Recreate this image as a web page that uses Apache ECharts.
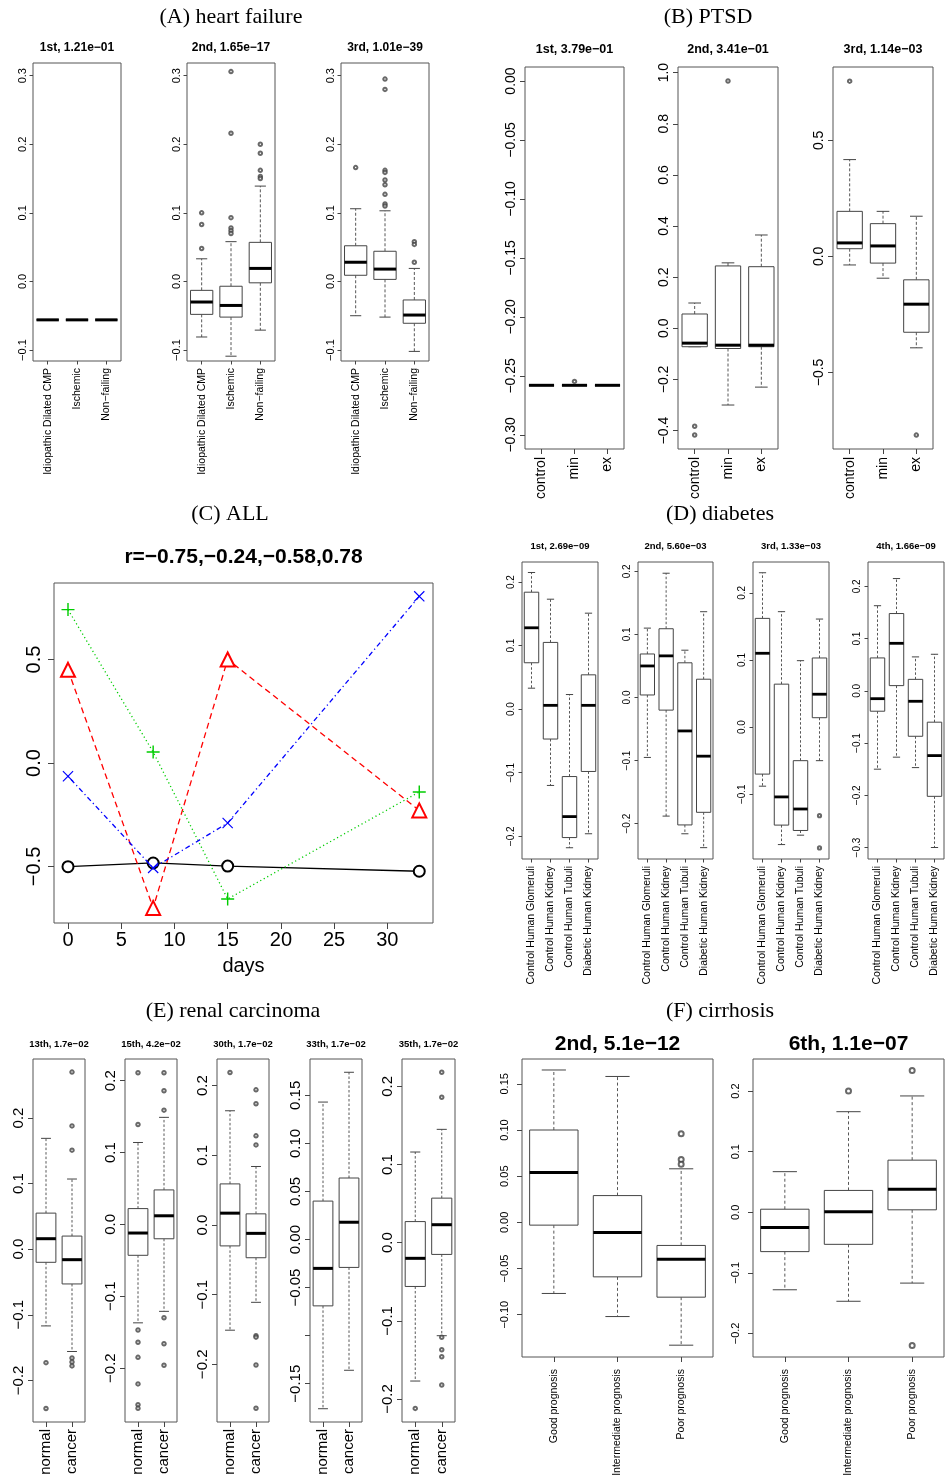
<!DOCTYPE html>
<html><head><meta charset="utf-8">
<script src="https://cdn.jsdelivr.net/npm/echarts@6/dist/echarts.min.js"></script>
<style>html,body{margin:0;padding:0;background:#fff}#c{width:946px;height:1483px}</style>
</head><body><div id="c"></div>
<script>
// ===================== DATA =====================
// stats per category: [lower whisker, Q1, median, Q3, upper whisker]; outliers: [categoryIndex, value]
const A_categories = ['Idiopathic Dilated CMP', 'Ischemic', 'Non\u2212failing'];
const A_titles = ['1st, 1.21e\u221201', '2nd, 1.65e\u221217', '3rd, 1.01e\u221239'];
const A_yRange = [-0.116, 0.3185];
const A_yTicks = [-0.1, 0.0, 0.1, 0.2, 0.3];
const A1_stats = [[-0.056,-0.056,-0.056,-0.056,-0.056],[-0.056,-0.056,-0.056,-0.056,-0.056],[-0.056,-0.056,-0.056,-0.056,-0.056]];
const A1_out = [];
const A2_stats = [[-0.081,-0.048,-0.030,-0.013,0.033],[-0.109,-0.052,-0.035,-0.007,0.058],[-0.071,-0.002,0.019,0.057,0.139]];
const A2_out = [[0,0.100],[0,0.083],[0,0.048],[1,0.306],[1,0.216],[1,0.093],[1,0.078],[1,0.074],[1,0.070],[2,0.200],[2,0.187],[2,0.162],[2,0.153],[2,0.150]];
const A3_stats = [[-0.050,0.009,0.028,0.052,0.106],[-0.052,0.003,0.018,0.044,0.103],[-0.102,-0.061,-0.049,-0.027,0.019]];
const A3_out = [[0,0.166],[1,0.295],[1,0.280],[1,0.162],[1,0.159],[1,0.148],[1,0.141],[1,0.127],[1,0.113],[1,0.110],[2,0.058],[2,0.054],[2,0.028]];

const B_categories = ['control', 'min', 'ex'];
const B_titles = ['1st, 3.79e\u221201', '2nd, 3.41e\u221201', '3rd, 1.14e\u221203'];
const B1_yRange = [-0.312, 0.0119];
const B1_yTicks = [-0.30, -0.25, -0.20, -0.15, -0.10, -0.05, 0.00];
const B1_stats = [[-0.258,-0.258,-0.258,-0.258,-0.258],[-0.258,-0.258,-0.258,-0.258,-0.258],[-0.258,-0.258,-0.258,-0.258,-0.258]];
const B1_out = [[1,-0.2547]];
const B2_yRange = [-0.472, 1.022];
const B2_yTicks = [-0.4, -0.2, 0.0, 0.2, 0.4, 0.6, 0.8, 1.0];
const B2_stats = [[-0.072,-0.072,-0.058,0.056,0.099],[-0.300,-0.079,-0.066,0.244,0.256],[-0.230,-0.072,-0.066,0.241,0.365]];
const B2_out = [[0,-0.383],[0,-0.417],[1,0.967]];
const B3_yRange = [-0.830, 0.816];
const B3_yTicks = [-0.5, 0.0, 0.5];
const B3_stats = [[-0.037,0.033,0.058,0.194,0.417],[-0.094,-0.029,0.045,0.141,0.194],[-0.394,-0.327,-0.206,-0.101,0.173]];
const B3_out = [[0,0.755],[2,-0.770]];

const C_title = 'r=\u22120.75,\u22120.24,\u22120.58,0.78';
const C_days = [0, 8, 15, 33];
const C_black = [-0.501, -0.483, -0.498, -0.523];
const C_red = [0.45, -0.70, 0.50, -0.229];
const C_green = [0.741, 0.053, -0.657, -0.14];
const C_blue = [-0.064, -0.507, -0.29, 0.805];
const C_xRange = [-1.315, 34.29];
const C_yRange = [-0.773, 0.8696];
const C_xTicks = [0, 5, 10, 15, 20, 25, 30];
const C_yTicks = [-0.5, 0.0, 0.5];

const D_categories = ['Control Human Glomeruli', 'Control Human Kidney', 'Control Human Tubuli', 'Diabetic Human Kidney'];
const D_titles = ['1st, 2.69e\u221209', '2nd, 5.60e\u221203', '3rd, 1.33e\u221203', '4th, 1.66e\u221209'];
const D1_yRange = [-0.2357, 0.2315];
const D1_yTicks = [-0.2, -0.1, 0.0, 0.1, 0.2];
const D1_stats = [[0.033,0.073,0.128,0.184,0.215],[-0.120,-0.047,0.006,0.105,0.173],[-0.218,-0.202,-0.169,-0.106,0.023],[-0.196,-0.098,0.006,0.054,0.151]];
const D2_yRange = [-0.256, 0.2148];
const D2_yTicks = [-0.2, -0.1, 0.0, 0.1, 0.2];
const D2_stats = [[-0.095,0.004,0.050,0.069,0.110],[-0.188,-0.020,0.066,0.109,0.197],[-0.216,-0.202,-0.053,0.055,0.075],[-0.238,-0.182,-0.093,0.029,0.136]];
const D3_yRange = [-0.1965, 0.246];
const D3_yTicks = [-0.1, 0.0, 0.1, 0.2];
const D3_stats = [[-0.088,-0.070,0.110,0.162,0.230],[-0.175,-0.146,-0.104,0.064,0.172],[-0.161,-0.154,-0.122,-0.050,0.099],[-0.050,0.014,0.049,0.103,0.161]];
const D3_out = [[3,-0.132],[3,-0.180]];
const D4_yRange = [-0.322, 0.2467];
const D4_yTicks = [-0.3, -0.2, -0.1, 0.0, 0.1, 0.2];
const D4_stats = [[-0.150,-0.039,-0.015,0.063,0.163],[-0.127,0.010,0.091,0.148,0.215],[-0.147,-0.087,-0.020,0.022,0.065],[-0.300,-0.202,-0.124,-0.060,0.070]];

const E_categories = ['normal', 'cancer'];
const E_titles = ['13th, 1.7e\u221202', '15th, 4.2e\u221202', '30th, 1.7e\u221202', '33th, 1.7e\u221202', '35th, 1.7e\u221202'];
const E1_yRange = [-0.2635, 0.29];
const E1_yTicks = [-0.2, -0.1, 0.0, 0.1, 0.2];
const E1_stats = [[-0.117,-0.020,0.016,0.055,0.169],[-0.156,-0.053,-0.016,0.020,0.107]];
const E1_out = [[0,-0.173],[0,-0.243],[1,0.270],[1,0.188],[1,0.151],[1,-0.166],[1,-0.172],[1,-0.178]];
const E2_yRange = [-0.275, 0.2302];
const E2_yTicks = [-0.2, -0.1, 0.0, 0.1, 0.2];
const E2_stats = [[-0.137,-0.043,-0.012,0.022,0.114],[-0.121,-0.020,0.012,0.048,0.149]];
const E2_out = [[0,0.211],[0,0.139],[0,-0.147],[0,-0.164],[0,-0.185],[0,-0.222],[0,-0.251],[0,-0.256],[1,0.211],[1,0.186],[1,0.159],[1,-0.130],[1,-0.166],[1,-0.196]];
const E3_yRange = [-0.2828, 0.2383];
const E3_yTicks = [-0.2, -0.1, 0.0, 0.1, 0.2];
const E3_stats = [[-0.151,-0.030,0.017,0.059,0.164],[-0.111,-0.047,-0.012,0.016,0.084]];
const E3_out = [[0,0.219],[1,0.194],[1,0.174],[1,0.128],[1,0.115],[1,-0.159],[1,-0.161],[1,-0.201],[1,-0.263]];
const E4_yRange = [-0.1898, 0.1878];
const E4_yTicks = [-0.15, -0.10, -0.05, 0.00, 0.05, 0.10, 0.15];
const E4_yLabels = [-0.15, -0.05, 0.00, 0.05, 0.10, 0.15];
const E4_stats = [[-0.176,-0.069,-0.030,0.040,0.143],[-0.136,-0.029,0.018,0.064,0.174]];
const E5_yRange = [-0.2294, 0.235];
const E5_yTicks = [-0.2, -0.1, 0.0, 0.1, 0.2];
const E5_stats = [[-0.177,-0.056,-0.020,0.027,0.116],[-0.119,-0.015,0.023,0.057,0.145]];
const E5_out = [[0,-0.212],[1,0.218],[1,0.186],[1,-0.121],[1,-0.137],[1,-0.146],[1,-0.182]];

const F_categories = ['Good prognosis', 'Intermediate prognosis', 'Poor prognosis'];
const F_titles = ['2nd, 5.1e\u221212', '6th, 1.1e\u221207'];
const F1_yRange = [-0.1458, 0.1769];
const F1_yTicks = [-0.10, -0.05, 0.00, 0.05, 0.10, 0.15];
const F1_stats = [[-0.077,-0.003,0.054,0.100,0.165],[-0.102,-0.059,-0.011,0.029,0.158],[-0.133,-0.081,-0.040,-0.025,0.058]];
const F1_out = [[2,0.096],[2,0.068],[2,0.063]];
const F2_yRange = [-0.239, 0.253];
const F2_yTicks = [-0.2, -0.1, 0.0, 0.1, 0.2];
const F2_stats = [[-0.128,-0.065,-0.025,0.005,0.067],[-0.147,-0.053,0.001,0.036,0.166],[-0.117,0.004,0.038,0.086,0.192]];
const F2_out = [[1,0.200],[2,0.234],[2,-0.220]];

const sectionTitles = ['(A) heart failure', '(B) PTSD', '(C) ALL', '(D) diabetes', '(E) renal carcinoma', '(F) cirrhosis'];

// ===================== BUILD =====================
const SANS = "'Liberation Sans', Arial, Helvetica, sans-serif";
const SERIF = "'Liberation Serif', 'Times New Roman', serif";
const grids = [], xAxes = [], yAxes = [], series = [], texts = [];

function fmt(v, d) { if (Math.abs(v) < 1e-9) v = 0; return v.toFixed(d).replace('-', '\u2212'); }
function addText(x, y, text, size, weight, family) {
  texts.push({ type: 'text', x: x, y: y, silent: true, z: 10,
    style: { text: text, fill: '#000', fontSize: size, fontWeight: weight, fontFamily: family,
      align: 'center', verticalAlign: 'middle', textAlign: 'center', textVerticalAlign: 'middle' } });
}
function makeBoxRenderer(st) {
  return function (params, api) {
    const i = api.value(0);
    const band = api.size([1, 0])[0];
    const bw = band * 0.76, half = bw / 2, cap = bw / 4;
    const y = k => api.coord([i, api.value(k)])[1];
    const x = api.coord([i, api.value(3)])[0];
    const lo = y(1), q1 = y(2), md = y(3), q3 = y(4), hi = y(5);
    const dash = { stroke: '#444', lineWidth: 0.9, lineDash: st.dash, fill: null };
    const solid = { stroke: '#444', lineWidth: 1, fill: null };
    return { type: 'group', children: [
      { type: 'line', shape: { x1: x, y1: q3, x2: x, y2: hi }, style: dash },
      { type: 'line', shape: { x1: x, y1: q1, x2: x, y2: lo }, style: dash },
      { type: 'line', shape: { x1: x - cap, y1: hi, x2: x + cap, y2: hi }, style: solid },
      { type: 'line', shape: { x1: x - cap, y1: lo, x2: x + cap, y2: lo }, style: solid },
      { type: 'rect', shape: { x: x - half, y: q3, width: bw, height: q1 - q3 }, style: { fill: '#fff', stroke: '#444', lineWidth: 1 } },
      { type: 'line', shape: { x1: x - half, y1: md, x2: x + half, y2: md }, style: { stroke: '#000', lineWidth: st.mW } }
    ] };
  };
}
function boxPanel(rect, titleY, title, cats, stats, out, range, ticks, labelTicks, dec, st) {
  const gi = grids.length;
  grids.push({ left: rect[0], top: rect[1], width: rect[2], height: rect[3], show: true,
    borderColor: '#555', borderWidth: 1, backgroundColor: 'transparent', containLabel: false, outerBoundsMode: 'none' });
  xAxes.push({ gridIndex: gi, type: 'category', data: cats, boundaryGap: true,
    axisLine: { show: false, onZero: false },
    axisTick: { show: true, alignWithLabel: true, interval: 0, length: st.tickLen, lineStyle: { color: '#444', width: 1 } },
    axisLabel: { interval: 0, rotate: 90, margin: st.xMargin, fontSize: st.catFont, fontFamily: SANS, color: '#000' },
    splitLine: { show: false } });
  yAxes.push({ gridIndex: gi, type: 'value', min: range[0], max: range[1],
    axisLine: { show: false, onZero: false },
    axisTick: { show: true, customValues: ticks, length: st.tickLen, lineStyle: { color: '#444', width: 1 } },
    axisLabel: { customValues: labelTicks || ticks, rotate: 90, margin: st.yMargin, fontSize: st.tickFont, fontFamily: SANS, color: '#000',
      formatter: v => fmt(v, dec) },
    splitLine: { show: false } });
  series.push({ type: 'custom', xAxisIndex: gi, yAxisIndex: gi, renderItem: makeBoxRenderer(st),
    data: stats.map((s, i) => [i].concat(s)), encode: { x: 0, y: [1, 2, 3, 4, 5] }, silent: true, z: 2 });
  if (out && out.length) {
    series.push({ type: 'scatter', xAxisIndex: gi, yAxisIndex: gi, data: out, symbol: 'emptyCircle',
      symbolSize: st.outSize, itemStyle: { color: '#444', borderWidth: st.outW }, silent: true, z: 3 });
  }
  addText(rect[0] + rect[2] / 2, titleY, title, st.titleFont, 'bold', SANS);
}

const stA = { tickFont: 11, catFont: 10.5, titleFont: 12, tickLen: 3.5, yMargin: 5, xMargin: 7, outSize: 3.5, outW: 0.6, mW: 3, dash: [3, 2] };
const stB = { tickFont: 14, catFont: 14, titleFont: 12.5, tickLen: 5, yMargin: 7, xMargin: 8, outSize: 3.5, outW: 0.6, mW: 3, dash: [3, 2] };
const stD = { tickFont: 10, catFont: 10.5, titleFont: 9.5, tickLen: 3.5, yMargin: 6, xMargin: 7, outSize: 3.2, outW: 0.6, mW: 2.8, dash: [2.5, 2] };
const stE = { tickFont: 15, catFont: 15, titleFont: 9.5, tickLen: 5, yMargin: 7, xMargin: 7, outSize: 3.5, outW: 0.6, mW: 3, dash: [2.5, 2] };
const stF = { tickFont: 11, catFont: 10.5, titleFont: 21, tickLen: 5, yMargin: 12, xMargin: 12, outSize: 5, outW: 0.7, mW: 3, dash: [3, 2.5] };

// (A)
boxPanel([33, 63, 88, 298], 48, A_titles[0], A_categories, A1_stats, A1_out, A_yRange, A_yTicks, null, 1, stA);
boxPanel([187, 63, 88, 298], 48, A_titles[1], A_categories, A2_stats, A2_out, A_yRange, A_yTicks, null, 1, stA);
boxPanel([341, 63, 88, 298], 48, A_titles[2], A_categories, A3_stats, A3_out, A_yRange, A_yTicks, null, 1, stA);
// (B)
boxPanel([525, 67, 99, 382], 50, B_titles[0], B_categories, B1_stats, B1_out, B1_yRange, B1_yTicks, null, 2, stB);
boxPanel([678, 67, 100, 382], 50, B_titles[1], B_categories, B2_stats, B2_out, B2_yRange, B2_yTicks, null, 1, stB);
boxPanel([833, 67, 100, 382], 50, B_titles[2], B_categories, B3_stats, B3_out, B3_yRange, B3_yTicks, null, 1, stB);
// (D)
boxPanel([522, 562, 76, 297], 546, D_titles[0], D_categories, D1_stats, [], D1_yRange, D1_yTicks, null, 1, stD);
boxPanel([638, 562, 75, 297], 546, D_titles[1], D_categories, D2_stats, [], D2_yRange, D2_yTicks, null, 1, stD);
boxPanel([753, 562, 76, 297], 546, D_titles[2], D_categories, D3_stats, D3_out, D3_yRange, D3_yTicks, null, 1, stD);
boxPanel([868, 562, 76, 297], 546, D_titles[3], D_categories, D4_stats, [], D4_yRange, D4_yTicks, null, 1, stD);
// (E)
boxPanel([33, 1059, 52, 363], 1044, E_titles[0], E_categories, E1_stats, E1_out, E1_yRange, E1_yTicks, null, 1, stE);
boxPanel([125, 1059, 52, 363], 1044, E_titles[1], E_categories, E2_stats, E2_out, E2_yRange, E2_yTicks, null, 1, stE);
boxPanel([217, 1059, 52, 363], 1044, E_titles[2], E_categories, E3_stats, E3_out, E3_yRange, E3_yTicks, null, 1, stE);
boxPanel([310, 1059, 52, 363], 1044, E_titles[3], E_categories, E4_stats, [], E4_yRange, E4_yTicks, E4_yLabels, 2, stE);
boxPanel([402, 1059, 53, 363], 1044, E_titles[4], E_categories, E5_stats, E5_out, E5_yRange, E5_yTicks, null, 1, stE);
// (F)
boxPanel([522, 1059, 191, 298], 1044, F_titles[0], F_categories, F1_stats, F1_out, F1_yRange, F1_yTicks, null, 2, stF);
boxPanel([753, 1059, 191, 298], 1044, F_titles[1], F_categories, F2_stats, F2_out, F2_yRange, F2_yTicks, null, 1, stF);

// (C) line chart
(function () {
  const gi = grids.length;
  grids.push({ left: 54, top: 583, width: 379, height: 340, show: true, borderColor: '#555', borderWidth: 1,
    backgroundColor: 'transparent', containLabel: false, outerBoundsMode: 'none' });
  xAxes.push({ gridIndex: gi, type: 'value', min: C_xRange[0], max: C_xRange[1],
    axisLine: { show: false, onZero: false },
    axisTick: { show: true, customValues: C_xTicks, length: 6, lineStyle: { color: '#444' } },
    axisLabel: { customValues: C_xTicks, margin: 7, fontSize: 20, fontFamily: SANS, color: '#000' },
    splitLine: { show: false },
    name: 'days', nameLocation: 'middle', nameGap: 33, nameTextStyle: { fontSize: 20, fontFamily: SANS, color: '#000' } });
  yAxes.push({ gridIndex: gi, type: 'value', min: C_yRange[0], max: C_yRange[1],
    axisLine: { show: false, onZero: false },
    axisTick: { show: true, customValues: C_yTicks, length: 6, lineStyle: { color: '#444' } },
    axisLabel: { customValues: C_yTicks, rotate: 90, margin: 10, fontSize: 20, fontFamily: SANS, color: '#000', formatter: v => fmt(v, 1) },
    splitLine: { show: false } });
  const zip = arr => C_days.map((d, i) => [d, arr[i]]);
  const plusPath = 'path://M4.45,0H5.55V10H4.45Z M0,4.45H10V5.55H0Z';
  const xPath = 'path://M0,0.75L0.75,0L10,9.25L9.25,10Z M9.25,0L10,0.75L0.75,10L0,9.25Z';
  series.push({ type: 'line', xAxisIndex: gi, yAxisIndex: gi, data: zip(C_black), symbol: 'emptyCircle', symbolSize: 11,
    lineStyle: { color: '#000', width: 1.3, type: 'solid' }, itemStyle: { color: '#000', borderWidth: 1 }, z: 3 });
  series.push({ type: 'line', xAxisIndex: gi, yAxisIndex: gi, data: zip(C_red), symbol: 'emptyTriangle', symbolSize: 14,
    lineStyle: { color: '#ff0000', width: 1.3, type: [6, 4] }, itemStyle: { color: '#ff0000', borderWidth: 1.1 }, z: 4 });
  series.push({ type: 'line', xAxisIndex: gi, yAxisIndex: gi, data: zip(C_green), symbol: plusPath, symbolSize: 13,
    lineStyle: { color: '#00cd00', width: 1.3, type: [1.2, 2.8] }, itemStyle: { color: '#00cd00' }, z: 5 });
  series.push({ type: 'line', xAxisIndex: gi, yAxisIndex: gi, data: zip(C_blue), symbol: xPath, symbolSize: 11,
    lineStyle: { color: '#0000ff', width: 1.3, type: [1.2, 3, 5, 3] }, itemStyle: { color: '#0000ff' }, z: 6 });
  addText(243.5, 557, C_title, 21, 'bold', SANS);
})();

// section titles
addText(231, 17, sectionTitles[0], 22, 'normal', SERIF);
addText(708, 17, sectionTitles[1], 22, 'normal', SERIF);
addText(230, 514, sectionTitles[2], 22, 'normal', SERIF);
addText(720, 514, sectionTitles[3], 22, 'normal', SERIF);
addText(233, 1011, sectionTitles[4], 22, 'normal', SERIF);
addText(720, 1011, sectionTitles[5], 22, 'normal', SERIF);

const chart = echarts.init(document.getElementById('c'), null, { renderer: 'canvas' });
chart.setOption({
  animation: false,
  backgroundColor: '#fff',
  grid: grids, xAxis: xAxes, yAxis: yAxes, series: series,
  graphic: { elements: texts }
});
</script></body></html>
